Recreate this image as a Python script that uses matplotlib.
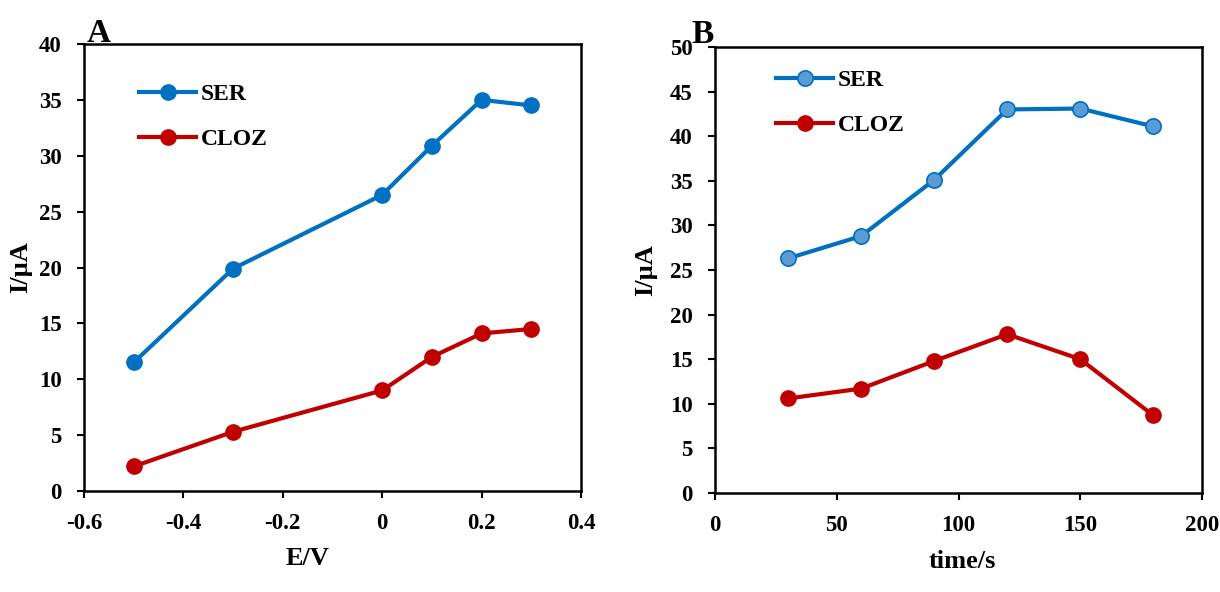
import matplotlib
matplotlib.use("Agg")
import matplotlib.pyplot as plt

# Panel A data
E_V = [-0.5, -0.3, 0.0, 0.1, 0.2, 0.3]
A_SER = [11.5, 19.9, 26.5, 30.9, 35.0, 34.5]
A_CLOZ = [2.2, 5.3, 9.0, 12.0, 14.1, 14.5]

# Panel B data
time_s = [30, 60, 90, 120, 150, 180]
B_SER = [26.3, 28.8, 35.1, 43.0, 43.1, 41.1]
B_CLOZ = [10.6, 11.7, 14.8, 17.8, 15.0, 8.7]

series_labels = ["SER", "CLOZ"]
A_xticks = [-0.6, -0.4, -0.2, 0, 0.2, 0.4]
A_xticklabels = ['-0.6', '-0.4', '-0.2', '0', '0.2', '0.4']

plt.rcParams['font.family'] = ['Liberation Serif', 'DejaVu Serif']
plt.rcParams['font.weight'] = 'bold'

W, H = 1220, 592
fig = plt.figure(figsize=(W/100, H/100), dpi=100)

def px_axes(l, t, r, b):
    return fig.add_axes([l/W, 1 - b/H, (r-l)/W, (b-t)/H])

axA = px_axes(84, 44, 581, 491)
axB = px_axes(715, 47, 1202, 493)

blue = '#0070C0'
red = '#C00000'

axA.plot(E_V, A_SER, '-o', color=blue, lw=3, ms=11, mfc=blue, mec=blue, label=series_labels[0])
axA.plot(E_V, A_CLOZ, '-o', color=red, lw=3, ms=11, mfc=red, mec=red, label=series_labels[1])
axA.set_xlim(-0.6, 0.4)
axA.set_ylim(0, 40)
axA.set_xticks(A_xticks)
axA.set_xticklabels(A_xticklabels)
axA.set_yticks(range(0, 41, 5))
axA.set_xlabel('E/V', fontsize=19, fontweight='bold')
axA.set_ylabel('I/µA', fontsize=19, fontweight='bold')
axA.xaxis.set_label_coords(0.45, -0.125)
axA.yaxis.set_label_coords(-0.105, 0.5)

axB.plot(time_s, B_SER, '-o', color=blue, lw=3, ms=11, mfc='#5B9BD5', mec=blue, mew=1.2, label=series_labels[0])
axB.plot(time_s, B_CLOZ, '-o', color=red, lw=3, ms=11, mfc=red, mec=red, label=series_labels[1])
axB.set_xlim(0, 200)
axB.set_ylim(0, 50)
axB.set_xticks(range(0, 201, 50))
axB.set_yticks(range(0, 51, 5))
axB.set_xlabel('time/s', fontsize=19, fontweight='bold')
axB.set_ylabel('I/µA', fontsize=19, fontweight='bold')
axB.xaxis.set_label_coords(0.507, -0.128)
axB.yaxis.set_label_coords(-0.118, 0.5)

legpos = {axA: (0.111, 0.912), axB: (0.126, 0.950)}
for ax in (axA, axB):
    for s in ax.spines.values():
        s.set_linewidth(1.8)
        s.set_color('black')
    ax.tick_params(direction='out', length=5, width=1.5, labelsize=16.5, pad=11,
                   top=False, right=False)
    for lab in ax.get_xticklabels() + ax.get_yticklabels():
        lab.set_fontweight('bold')
    ax.legend(loc='upper left', bbox_to_anchor=legpos[ax], frameon=False,
              prop={'size': 17, 'weight': 'bold'}, handlelength=2.4,
              labelspacing=1.0, handletextpad=0.2, borderaxespad=0, borderpad=0)

fig.text(87/W, 1 - 42/H, 'A', fontsize=24, fontweight='bold')
fig.text(691/W, 1 - 43/H, 'B', fontsize=24, fontweight='bold')

fig.savefig('out.png', dpi=100)
